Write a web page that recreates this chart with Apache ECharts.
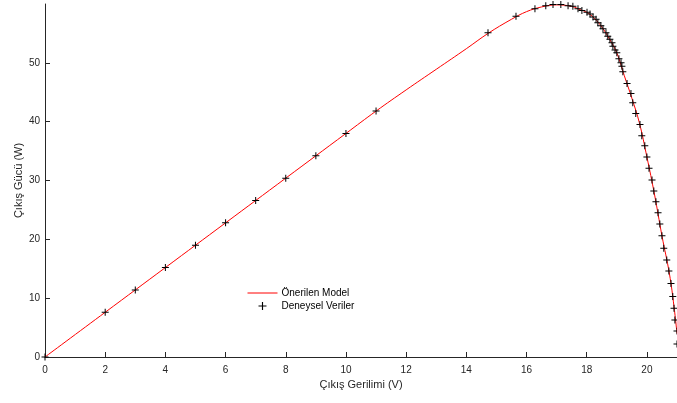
<!DOCTYPE html>
<html>
<head>
<meta charset="utf-8">
<script src="https://cdn.jsdelivr.net/npm/echarts@6/dist/echarts.min.js"></script>
<style>
  html, body { margin: 0; padding: 0; background: #fff; }
  #chart { width: 677px; height: 403px; }
</style>
</head>
<body>
<div id="chart"></div>
<script>
// measured points (Deneysel Veriler)
const expV = [0, 2, 3, 4, 5, 6, 7, 8, 9, 10, 11, 14.72, 15.65, 16.28, 16.64, 16.88, 17.14, 17.38, 17.54,
  17.71, 17.84, 18.01, 18.11, 18.21, 18.31, 18.37, 18.47, 18.54, 18.64, 18.7, 18.77, 18.84, 18.87, 18.94,
  19.0, 19.07, 19.14, 19.17, 19.2, 19.34, 19.47, 19.53, 19.63, 19.77, 19.83, 19.93, 20.0, 20.07, 20.17,
  20.23, 20.3, 20.37, 20.43, 20.5, 20.56, 20.66, 20.73, 20.8, 20.86, 20.9, 20.93, 21.0, 21.0]
const expP = [0, 7.6, 11.4, 15.2, 19.0, 22.8, 26.6, 30.4, 34.2, 38.0, 41.8, 55.1, 57.9, 59.2, 59.7, 59.9, 59.9, 59.7, 59.6,
  59.2, 58.9, 58.6, 58.3, 57.8, 57.4, 56.8, 56.3, 55.8, 55.1, 54.5, 54.0, 53.4, 52.8, 52.2,
  51.7, 50.7, 50.0, 49.4, 48.5, 46.5, 44.8, 43.2, 41.4, 39.5, 37.6, 35.9, 34.0, 32.1, 30.1,
  28.2, 26.4, 24.5, 22.6, 20.6, 18.5, 16.5, 14.6, 12.5, 10.3, 8.3, 6.3, 4.4, 2.2]

// proposed model curve (Önerilen Model)
const modelV = [0, 2, 4, 6, 8, 10, 11, 12, 13, 14, 14.72, 15.5, 16, 16.5, 17, 17.5, 17.8, 18, 18.25, 18.5,
  18.75, 19, 19.25, 19.5, 19.75, 20, 20.25, 20.5, 20.75, 20.9, 21.0]
const modelP = [0, 7.6, 15.2, 22.8, 30.4, 38.0, 41.8, 45.4, 48.9, 52.4, 55.0, 57.4, 58.7, 59.5, 59.85, 59.6, 59.0, 58.6, 57.6, 56.1,
  54.1, 51.7, 47.8, 44.0, 39.8, 34.0, 27.7, 20.6, 14.1, 8.6, 4.0]

const xTicks = [0, 2, 4, 6, 8, 10, 12, 14, 16, 18, 20]
const yTicks = [0, 10, 20, 30, 40, 50]

const axisText = { color: "#262626", fontSize: 10, fontFamily: "Liberation Sans, Arial, sans-serif" }

const chart = echarts.init(document.getElementById("chart"))
chart.setOption({
  animation: false,
  textStyle: { fontFamily: "Liberation Sans, Arial, sans-serif" },
  grid: { left: 45, right: 0, top: 4, bottom: 46 },
  legend: {
    orient: "vertical",
    left: 247,
    top: 288,
    padding: 0,
    itemWidth: 30,
    itemHeight: 8,
    itemGap: 3,
    textStyle: { fontSize: 10, color: "#000", padding: [0, 0, 0, -1] },
    data: [
      { name: "Önerilen Model", itemStyle: { color: "transparent", borderWidth: 0 }, lineStyle: { width: 1, color: "#ff0000" } },
      { name: "Deneysel Veriler" }
    ]
  },
  xAxis: {
    type: "value",
    min: 0,
    max: 21,
    name: "Çıkış Gerilimi (V)",
    nameLocation: "middle",
    nameGap: 22,
    nameMoveOverlap: false,
    nameTextStyle: { fontSize: 11, color: "#262626" },
    axisLine: { onZero: false, lineStyle: { color: "#262626", width: 1 } },
    axisTick: { inside: true, length: 5, customValues: xTicks, lineStyle: { color: "#262626" } },
    axisLabel: Object.assign({ customValues: xTicks, margin: 8 }, axisText),
    splitLine: { show: false }
  },
  yAxis: {
    type: "value",
    min: 0,
    max: 60,
    name: "Çıkış Gücü (W)",
    nameLocation: "middle",
    nameGap: 21,
    nameMoveOverlap: false,
    nameTextStyle: { fontSize: 11, color: "#262626" },
    axisLine: { show: true, onZero: false, lineStyle: { color: "#262626", width: 1 } },
    axisTick: { show: true, inside: true, length: 5, customValues: yTicks, lineStyle: { color: "#262626" } },
    axisLabel: Object.assign({ customValues: yTicks, margin: 5 }, axisText),
    splitLine: { show: false }
  },
  series: [
    {
      name: "Önerilen Model",
      type: "line",
      data: modelV.map((v, i) => [v, modelP[i]]),
      smooth: 0.4,
      symbol: "none",
      lineStyle: { color: "#ff0000", width: 1 },
      itemStyle: { color: "#ff0000" },
      z: 2
    },
    {
      name: "Deneysel Veriler",
      type: "scatter",
      data: expV.map((v, i) => [v, expP[i]]),
      symbol: "path://M3,0H4V3H7V4H4V7H3V4H0V3H3Z",
      symbolSize: 7,
      symbolKeepAspect: true,
      clip: false,
      itemStyle: { color: "#000", opacity: 1 },
      z: 3
    }
  ]
})
</script>
</body>
</html>
